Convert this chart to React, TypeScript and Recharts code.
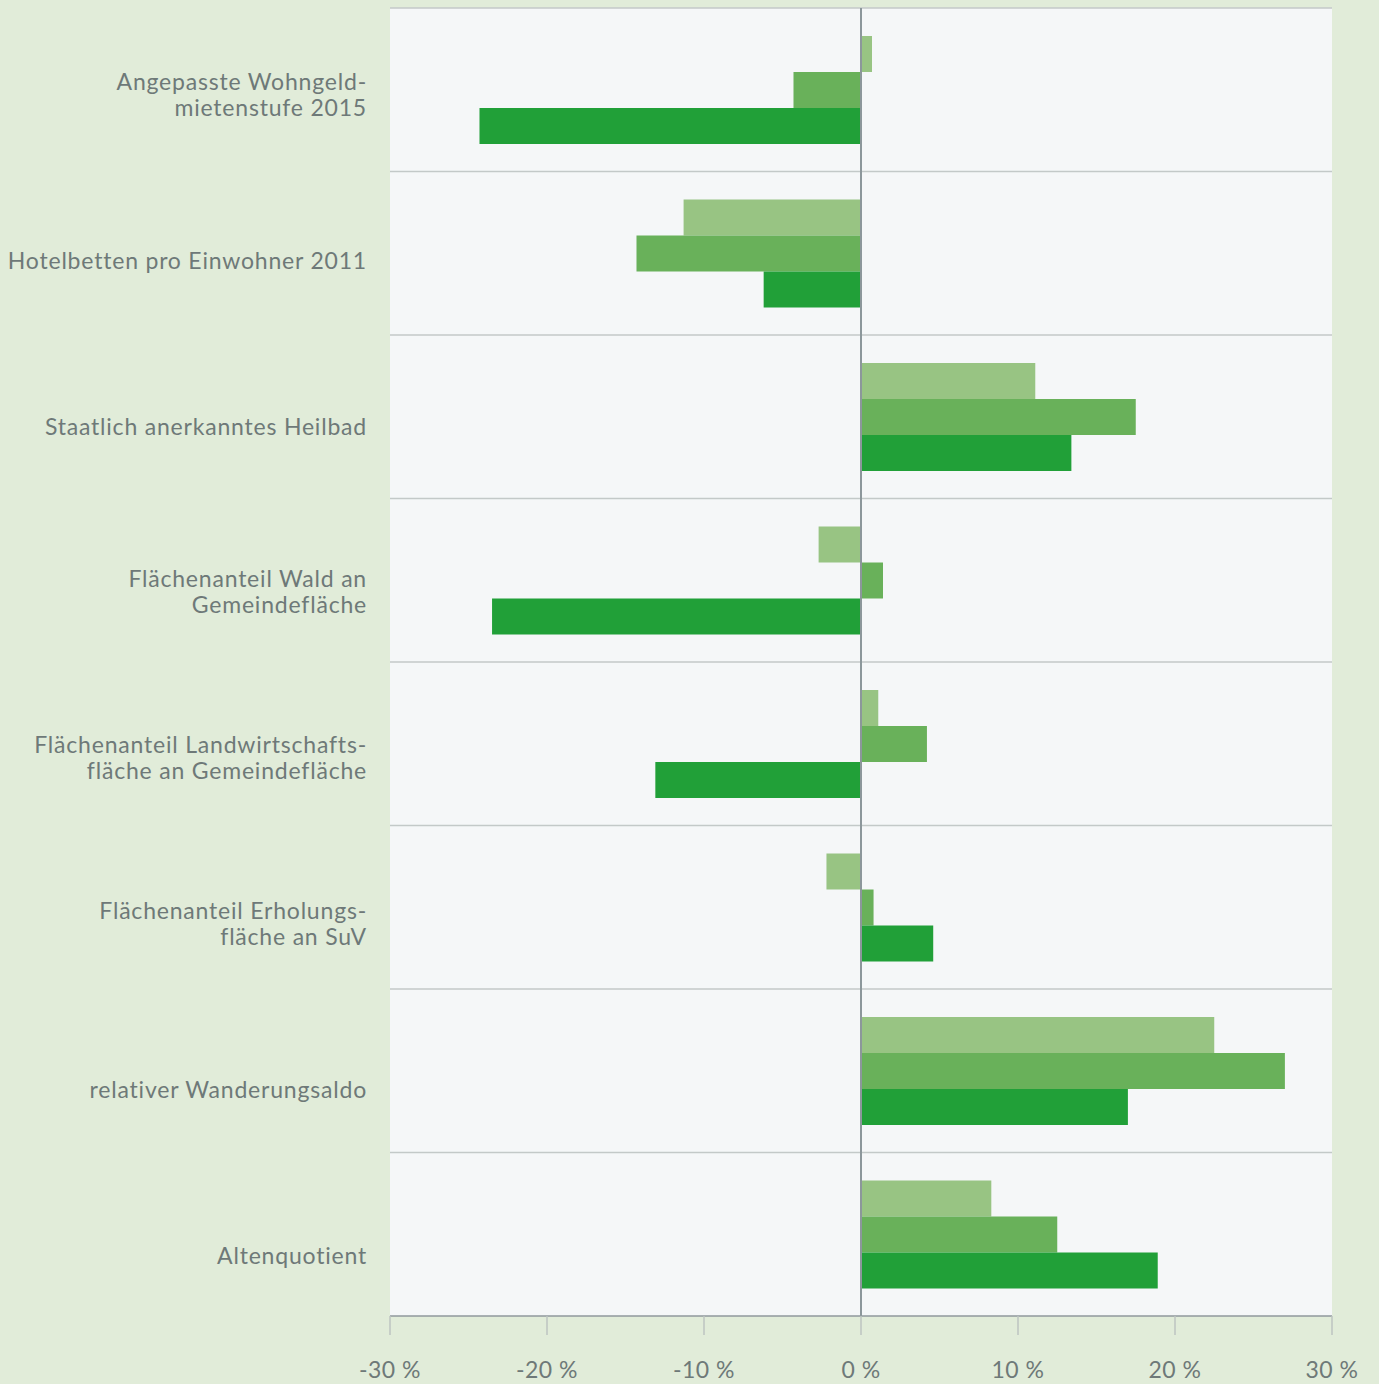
import React from "react";
import {
  BarChart,
  Bar,
  XAxis,
  YAxis,
  CartesianGrid,
  ReferenceLine,
} from "recharts";

const categories = [
  "Angepasste Wohngeld-\nmietenstufe 2015",
  "Hotelbetten pro Einwohner 2011",
  "Staatlich anerkanntes Heilbad",
  "Flächenanteil Wald an\nGemeindefläche",
  "Flächenanteil Landwirtschafts-\nfläche an Gemeindefläche",
  "Flächenanteil Erholungs-\nfläche an SuV",
  "relativer Wanderungsaldo",
  "Altenquotient",
];

const seriesLight = [0.7, -11.3, 11.1, -2.7, 1.1, -2.2, 22.5, 8.3];
const seriesMedium = [-4.3, -14.3, 17.5, 1.4, 4.2, 0.8, 27.0, 12.5];
const seriesDark = [-24.3, -6.2, 13.4, -23.5, -13.1, 4.6, 17.0, 18.9];

const xTicks = [-30, -20, -10, 0, 10, 20, 30];

const data = categories.map((name, i) => ({
  name,
  light: seriesLight[i],
  medium: seriesMedium[i],
  dark: seriesDark[i],
}));

const FONT = "Lato, 'Open Sans', sans-serif";
const TEXT = "#6e7978";

const CategoryTick = (props: any) => {
  const { x, y, payload, index } = props;
  const lines: string[] = String(payload.value).split("\n");
  const shift = 5 + index * 2.4;
  const startDy = lines.length > 1 ? -13 : 0;
  return (
    <text
      x={x}
      y={y + shift}
      textAnchor="end"
      fill={TEXT}
      fontSize={23}
      letterSpacing={0.8}
      fontFamily={FONT}
    >
      {lines.map((line, k) => (
        <tspan key={k} x={x} dy={k === 0 ? startDy + 8 : 26}>
          {line}
        </tspan>
      ))}
    </text>
  );
};

export default function App() {
  return (
    <div
      style={{
        position: "absolute",
        left: 0,
        top: 0,
        width: 1379,
        height: 1384,
        background: "#e1ecd9",
      }}
    >
      <BarChart
        width={1379}
        height={1384}
        data={data}
        layout="vertical"
        margin={{ top: 8, right: 47, bottom: 0, left: 0 }}
        barSize={36}
        barGap={0}
      >
        <CartesianGrid
          fill="#f5f7f8"
          stroke="#c3c9c8"
          strokeWidth={1.5}
          vertical={false}
          horizontalCoordinatesGenerator={({ offset }: any) =>
            categories.map(
              (_, i) => offset.top + (i * offset.height) / categories.length
            )
          }
        />
        <XAxis
          type="number"
          domain={[-30, 30]}
          ticks={xTicks}
          tickFormatter={(v: number) => `${v} %`}
          height={68}
          stroke="#8f999c"
          tickSize={19}
          tickMargin={27}
          tickLine={{ stroke: "#bcc4c1", strokeWidth: 1.5 }}
          axisLine={{ stroke: "#8f999c", strokeWidth: 1.5 }}
          tick={{ fill: TEXT, fontSize: 23, fontFamily: FONT, letterSpacing: 0.5 }}
          allowDataOverflow
        />
        <YAxis
          type="category"
          dataKey="name"
          width={390}
          axisLine={false}
          tickLine={false}
          tickSize={0}
          tickMargin={23}
          interval={0}
          tick={<CategoryTick />}
        />
        <Bar dataKey="light" fill="#98c483" isAnimationActive={false} />
        <Bar dataKey="medium" fill="#69b15a" isAnimationActive={false} />
        <Bar dataKey="dark" fill="#21a038" isAnimationActive={false} />
        <ReferenceLine x={0} stroke="#8c979b" strokeWidth={2} />
      </BarChart>
    </div>
  );
}
